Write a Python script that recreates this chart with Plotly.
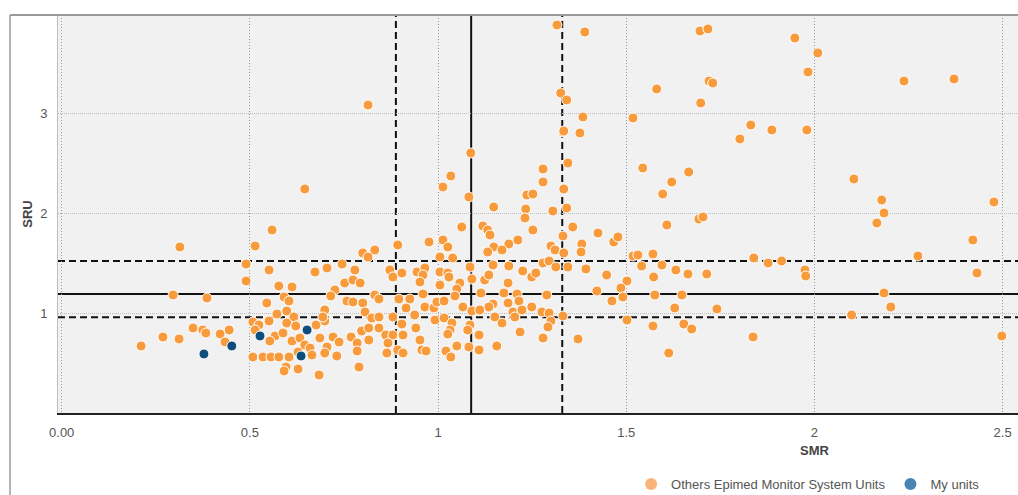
import plotly.graph_objects as go

# ---- data (SMR, SRU) ----
others_smr = [
    0.211, 0.269, 0.312, 0.296, 0.386, 0.349, 0.375, 0.383, 0.421, 0.445, 0.434, 0.314,
    0.490, 0.490, 0.514, 0.559, 0.646, 0.814, 0.551, 0.673, 0.705, 0.577, 0.612, 0.545,
    0.591, 0.604, 0.598, 0.572, 0.617, 0.699, 0.508, 0.524, 0.551, 0.514, 0.598, 0.622,
    0.676, 0.699, 0.567, 0.553, 0.588, 0.612, 0.633, 0.646, 0.660, 0.686, 0.705, 0.508,
    0.535, 0.556, 0.577, 0.604, 0.628, 0.665, 0.699, 0.596, 0.591, 0.628, 0.684,
    0.893, 0.976, 0.800, 0.832, 0.814, 0.745, 0.779, 0.872, 0.904, 0.880, 0.944, 0.965,
    0.960, 0.952, 0.726, 0.715, 0.752, 0.774, 0.793, 0.758, 0.774, 0.800, 0.832, 0.843,
    0.896, 0.925, 0.960, 0.915, 0.965, 0.989, 0.806, 0.694, 0.824, 0.843, 0.880, 0.904,
    0.938, 0.992, 0.941, 0.797, 0.816, 0.843, 0.861, 0.880, 0.907, 0.769, 0.721, 0.737,
    0.816, 0.785, 0.867, 0.952, 0.785, 0.731, 0.864, 0.893, 0.907, 0.957, 0.968, 0.790,
    1.087, 1.034, 1.013, 1.082, 1.148, 1.236, 1.252, 1.233, 1.231, 1.252, 1.063, 1.119,
    1.132, 1.138, 1.212, 1.188, 1.013, 1.026, 1.148, 1.170, 1.132, 1.005, 1.039, 1.085,
    1.146, 1.188, 1.225, 1.249, 1.260, 1.005, 1.026, 1.029, 1.090, 1.124, 1.135, 1.186,
    1.058, 1.005, 1.050, 1.045, 0.997, 1.016, 1.114, 1.175, 1.210, 1.215, 1.186, 1.066,
    1.146, 1.135, 1.249, 1.090, 1.111, 1.199, 1.204, 1.223, 1.151, 1.016, 1.037, 1.032,
    1.026, 1.085, 1.079, 1.170, 1.218, 1.109, 1.082, 1.109, 1.050, 1.021, 1.034, 1.156,
    1.332, 1.377, 1.345, 1.279, 1.279, 1.334, 1.342, 1.305, 1.544, 1.358, 1.332, 1.425,
    1.467, 1.478, 1.382, 1.300, 1.311, 1.380, 1.334, 1.518, 1.531, 1.279, 1.295, 1.313,
    1.345, 1.393, 1.541, 1.448, 1.502, 1.486, 1.491, 1.422, 1.289, 1.462, 1.276, 1.295,
    1.332, 1.300, 1.292, 1.502, 1.279, 1.372,
    1.316, 1.390, 1.326, 1.342, 1.385, 1.518, 1.334,
    1.696, 1.717, 1.948, 2.009, 1.983, 1.581, 1.720, 1.730, 1.698, 2.238, 2.371, 1.831,
    1.802, 1.887, 1.980, 1.666, 1.621, 1.597, 2.105, 2.179, 2.185, 2.166, 2.477, 1.608,
    1.693, 1.704, 2.421, 1.571, 1.839, 1.877, 1.913, 2.275, 1.595, 1.632, 1.664, 1.714,
    1.975, 1.977, 2.432, 1.573, 1.576, 1.648, 2.185, 1.629, 1.741, 2.203, 1.571, 1.653,
    1.674, 2.099, 1.837, 2.498, 1.613,
]
others_sru = [
    0.67, 0.76, 0.74, 1.18, 1.15, 0.85, 0.83, 0.80, 0.79, 0.83, 0.71, 1.66,
    1.49, 1.32, 1.67, 1.83, 2.24, 3.08, 1.43, 1.41, 1.45, 1.27, 1.26, 1.10,
    1.16, 1.12, 1.02, 0.99, 0.96, 1.03, 0.91, 0.88, 0.92, 0.83, 0.90, 0.87,
    0.88, 0.92, 0.77, 0.72, 0.80, 0.72, 0.75, 0.68, 0.65, 0.75, 0.66, 0.56,
    0.56, 0.56, 0.56, 0.56, 0.61, 0.58, 0.60, 0.46, 0.42, 0.44, 0.38,
    1.68, 1.71, 1.60, 1.63, 1.56, 1.49, 1.43, 1.43, 1.40, 1.36, 1.41, 1.45,
    1.38, 1.31, 1.23, 1.17, 1.30, 1.33, 1.30, 1.12, 1.11, 1.10, 1.18, 1.14,
    1.14, 1.14, 1.19, 1.05, 1.06, 1.05, 1.01, 0.96, 0.95, 0.96, 0.96, 0.89,
    0.98, 0.93, 0.85, 0.82, 0.85, 0.85, 0.78, 0.78, 0.78, 0.76, 0.76, 0.71,
    0.73, 0.70, 0.70, 0.73, 0.62, 0.57, 0.60, 0.63, 0.60, 0.63, 0.62, 0.46,
    2.60, 2.37, 2.26, 2.16, 2.06, 2.18, 2.19, 2.04, 1.95, 1.83, 1.86, 1.87,
    1.83, 1.78, 1.73, 1.69, 1.73, 1.66, 1.66, 1.63, 1.61, 1.56, 1.55, 1.46,
    1.48, 1.47, 1.42, 1.36, 1.40, 1.41, 1.40, 1.36, 1.34, 1.33, 1.38, 1.30,
    1.30, 1.28, 1.24, 1.17, 1.11, 1.12, 1.20, 1.20, 1.19, 1.12, 1.10, 1.06,
    1.09, 1.06, 1.06, 1.02, 1.03, 1.01, 0.96, 1.03, 0.96, 0.95, 0.90, 0.83,
    0.79, 0.88, 0.83, 0.90, 0.81, 0.78, 0.66, 0.63, 0.67, 0.62, 0.56, 0.67,
    2.81, 2.80, 2.50, 2.44, 2.31, 2.24, 2.05, 2.02, 2.45, 1.86, 1.77, 1.80,
    1.71, 1.76, 1.69, 1.67, 1.63, 1.61, 1.60, 1.57, 1.58, 1.50, 1.52, 1.46,
    1.46, 1.44, 1.47, 1.38, 1.32, 1.25, 1.16, 1.22, 1.18, 1.12, 1.01, 1.00,
    0.97, 0.92, 0.86, 0.93, 0.75, 0.74,
    3.88, 3.81, 3.20, 3.13, 2.96, 2.95, 2.82,
    3.82, 3.84, 3.75, 3.60, 3.41, 3.24, 3.32, 3.30, 3.10, 3.32, 3.34, 2.88,
    2.74, 2.83, 2.83, 2.41, 2.31, 2.19, 2.34, 2.13, 2.00, 1.90, 2.11, 1.88,
    1.94, 1.96, 1.73, 1.59, 1.55, 1.50, 1.52, 1.57, 1.48, 1.43, 1.39, 1.39,
    1.43, 1.37, 1.40, 1.36, 1.18, 1.18, 1.20, 1.05, 1.04, 1.06, 0.87, 0.89,
    0.84, 0.98, 0.76, 0.77, 0.60,
]
my_smr = [0.378, 0.452, 0.527, 0.652, 0.636]
my_sru = [0.59, 0.67, 0.77, 0.83, 0.57]

# reference lines (median and quartile bands)
smr_mid, smr_lo, smr_hi = 1.088, 0.888, 1.330
sru_mid, sru_lo, sru_hi = 1.19, 0.957, 1.52

x_tickvals = [0, 0.5, 1, 1.5, 2, 2.5]
x_ticktext = ["0.00", "0.5", "1", "1.5", "2", "2.5"]
y_tickvals = [1, 2, 3]
y_ticktext = ["1", "2", "3"]

series_names = ["Others Epimed Monitor System Units", "My units"]

ORANGE = "#F89B3C"
BLUE = "#0F4D7C"
ORANGE_LEG = "#F9B47A"
BLUE_LEG = "#4A84B4"
FONT = "Liberation Sans, Arial, sans-serif"

fig = go.Figure()
fig.add_trace(go.Scatter(
    x=others_smr, y=others_sru, mode="markers", name=series_names[0], showlegend=False,
    marker=dict(size=10, color=ORANGE, line=dict(color="white", width=1)),
))
fig.add_trace(go.Scatter(
    x=my_smr, y=my_sru, mode="markers", name=series_names[1], showlegend=False,
    marker=dict(size=10, color=BLUE, line=dict(color="white", width=1)),
))
# legend entries
fig.add_trace(go.Scatter(x=[None], y=[None], mode="markers", name=series_names[0],
                         marker=dict(size=12, color=ORANGE_LEG)))
fig.add_trace(go.Scatter(x=[None], y=[None], mode="markers", name=series_names[1],
                         marker=dict(size=12, color=BLUE_LEG)))

shapes = []
for v, d in [(smr_mid, "solid"), (smr_lo, "7px,4px"), (smr_hi, "7px,4px")]:
    shapes.append(dict(type="line", xref="x", yref="paper", x0=v, x1=v, y0=0, y1=1,
                       layer="below", line=dict(color="#111", width=2, dash=d)))
for v, d in [(sru_mid, "solid"), (sru_lo, "7px,4px"), (sru_hi, "7px,4px")]:
    shapes.append(dict(type="line", xref="paper", yref="y", x0=0, x1=1, y0=v, y1=v,
                       layer="below", line=dict(color="#111", width=2, dash=d)))
# outer container border (left and top)
shapes.append(dict(type="line", xref="paper", yref="paper", x0=-0.05, x1=-0.05, y0=1.0, y1=-0.21,
                   line=dict(color="#9a9a9a", width=1.5)))
shapes.append(dict(type="line", xref="paper", yref="paper", x0=-0.05, x1=1.0, y0=1.0, y1=1.0,
                   line=dict(color="#9a9a9a", width=2)))

fig.add_annotation(text="<b>SMR</b>", xref="paper", yref="paper", x=0.789, y=-0.093,
                   xanchor="center", yanchor="middle",
                   showarrow=False, font=dict(size=13, color="#444", family=FONT))

fig.update_layout(
    width=1018, height=495,
    margin=dict(l=58, r=0, t=15, b=82),
    paper_bgcolor="white", plot_bgcolor="#f1f1f1",
    font=dict(family=FONT, size=13, color="#555"),
    showlegend=True,
    shapes=shapes,
    legend=dict(orientation="h", x=0.597, xanchor="left", xref="paper",
                y=0.022, yanchor="middle", yref="container",
                font=dict(size=13, color="#555"), itemwidth=30, tracegroupgap=0),
    xaxis=dict(range=[-0.0098, 2.541], tickvals=x_tickvals, ticktext=x_ticktext,
               showgrid=True, gridcolor="#999999", griddash="1px,2px", gridwidth=1,
               zeroline=False, showline=True, linecolor="#222", linewidth=2,
               ticks="", ticklabelstandoff=6, tickfont=dict(size=13, color="#555")),
    yaxis=dict(range=[0, 3.98], tickvals=y_tickvals, ticktext=y_ticktext,
               showgrid=True, gridcolor="#bbbbbb", griddash="1px,1px", gridwidth=1,
               zeroline=False, showline=True, linecolor="#c0c0c0", linewidth=1,
               ticks="", ticklabelstandoff=7, tickfont=dict(size=13, color="#555"),
               title=dict(text="<b>SRU</b>", font=dict(size=13, color="#444"), standoff=4)),
)

fig.write_html("out.html", config={"displayModeBar": False},
               post_script="document.body.style.margin='0';")
